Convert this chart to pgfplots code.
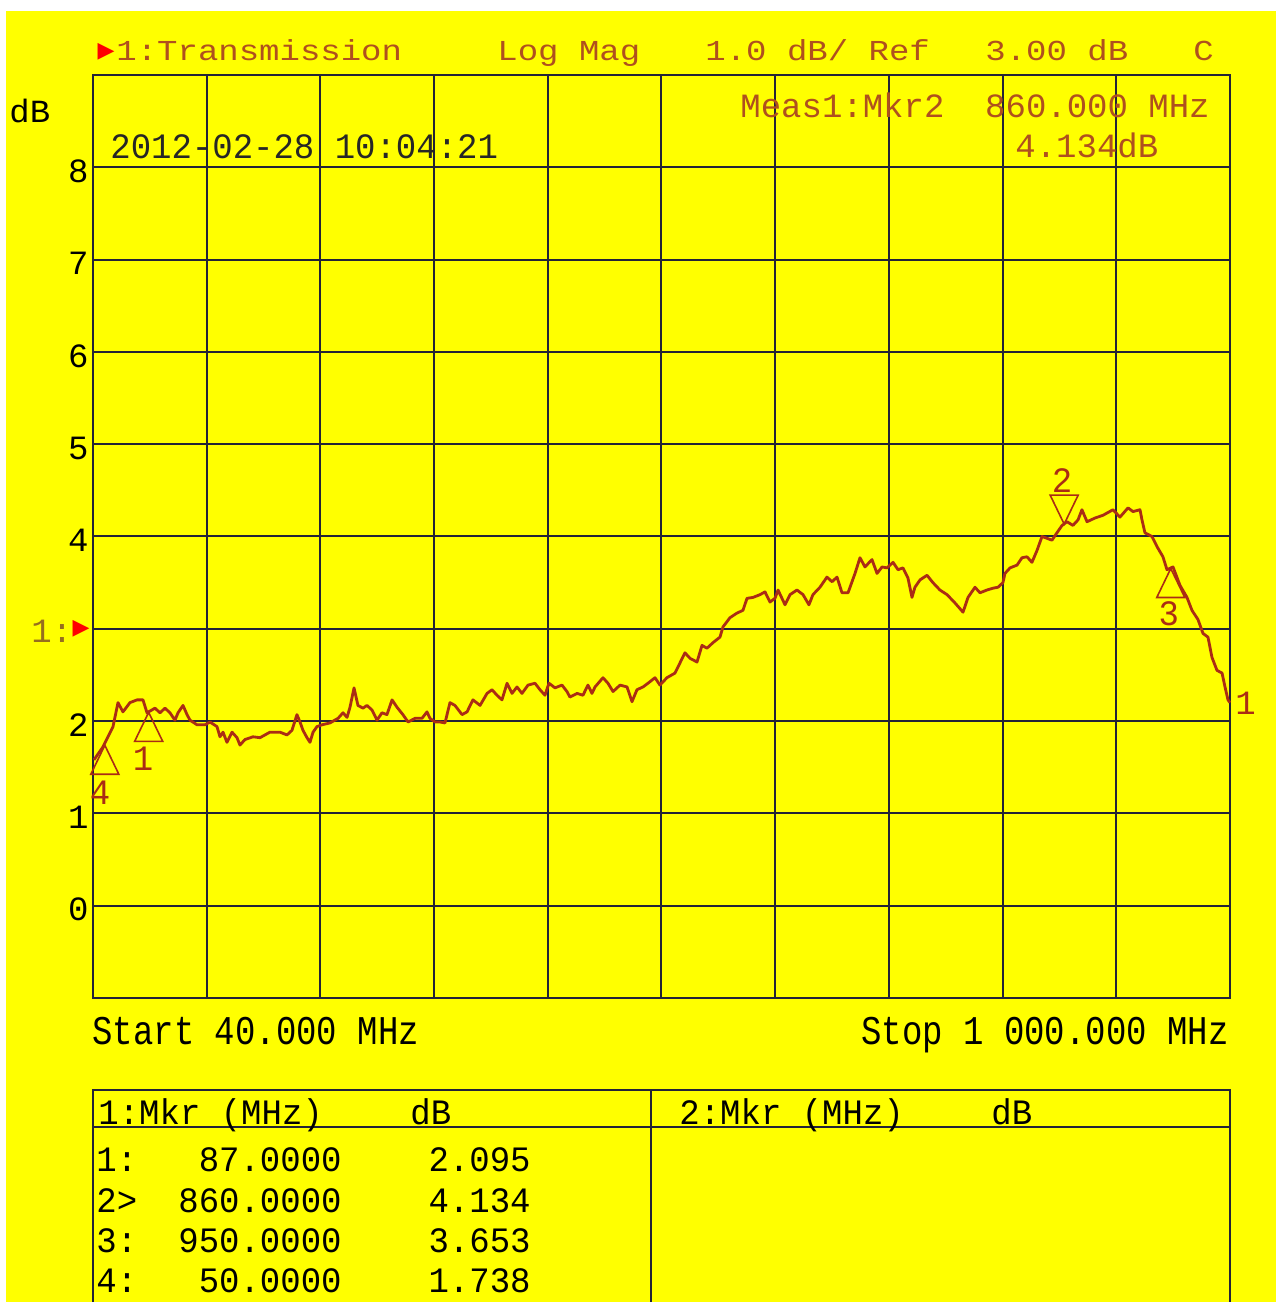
\documentclass[border=0pt]{standalone}
\usepackage{fontspec}
\usepackage{graphicx}
\usepackage{pgfplots}
\pgfplotsset{compat=1.18}
\newfontfamily\mono{Liberation Mono}
\newfontfamily\dejavu{DejaVu Sans}
\definecolor{yel}{RGB}{255,255,0}
\definecolor{gridc}{RGB}{35,35,55}
\definecolor{trc}{RGB}{170,45,20}
\definecolor{hdr}{RGB}{175,80,30}
\definecolor{olv}{RGB}{150,110,30}
\newcommand{\M}[2]{\scalebox{1}[#1]{\mono\fontsize{17}{17}\selectfont #2}}
\pgfdeclareplotmark{mkup}{%
  \pgfpathmoveto{\pgfqpoint{0pt}{0pt}}%
  \pgfpathlineto{\pgfqpoint{-7pt}{-14.5pt}}%
  \pgfpathlineto{\pgfqpoint{7pt}{-14.5pt}}%
  \pgfpathclose\pgfusepathqstroke}
\pgfdeclareplotmark{mkdown}{%
  \pgfpathmoveto{\pgfqpoint{0pt}{0pt}}%
  \pgfpathlineto{\pgfqpoint{-7pt}{14.5pt}}%
  \pgfpathlineto{\pgfqpoint{7pt}{14.5pt}}%
  \pgfpathclose\pgfusepathqstroke}
\pgfplotstableread{
f db
40.8 1.58
48.4 1.72
56.9 1.94
61.1 2.20
65.3 2.10
71.2 2.20
77.2 2.23
82.2 2.23
85.6 2.09
92.3 2.14
96.6 2.09
100.8 2.14
105.0 2.09
109.2 2.01
111.8 2.09
116.0 2.17
119.4 2.07
121.9 2.01
127.8 1.96
134.6 1.96
138.8 1.99
144.7 1.94
147.2 1.83
149.8 1.88
153.1 1.77
157.4 1.88
161.6 1.82
164.1 1.74
168.3 1.80
175.1 1.83
181.0 1.82
189.4 1.88
197.9 1.88
203.8 1.85
208.0 1.90
212.2 2.07
214.8 1.99
217.3 1.90
220.7 1.82
223.2 1.77
225.8 1.88
229.1 1.94
233.4 1.96
240.1 1.98
246.9 2.03
251.1 2.09
254.5 2.04
257.0 2.15
260.4 2.36
263.7 2.17
268.0 2.14
271.3 2.17
275.6 2.12
279.8 2.01
284.0 2.09
288.2 2.07
292.5 2.23
296.7 2.15
301.7 2.07
306.0 1.99
311.9 2.03
317.8 2.03
322.0 2.10
324.5 2.03
328.8 1.99
333.0 1.99
337.2 1.98
341.4 2.20
345.6 2.17
351.6 2.07
355.8 2.10
360.8 2.23
366.8 2.17
372.7 2.30
376.9 2.34
381.1 2.28
385.3 2.23
389.6 2.41
393.8 2.30
398.0 2.37
402.2 2.30
407.3 2.39
413.2 2.41
417.4 2.34
421.6 2.28
425.0 2.41
430.1 2.36
436.0 2.39
440.2 2.32
442.7 2.26
448.7 2.30
453.7 2.28
457.9 2.39
461.3 2.30
463.9 2.37
470.6 2.47
474.8 2.41
479.1 2.32
485.0 2.39
490.9 2.37
495.1 2.21
499.3 2.34
504.4 2.37
508.6 2.41
514.5 2.47
518.7 2.39
524.6 2.47
531.4 2.52
535.6 2.63
539.8 2.74
544.1 2.68
550.0 2.64
554.2 2.82
558.4 2.79
563.5 2.85
569.4 2.91
571.9 3.02
577.8 3.12
583.7 3.17
588.8 3.20
592.2 3.33
597.3 3.34
603.2 3.37
607.4 3.40
611.6 3.29
615.8 3.33
618.4 3.42
624.3 3.26
628.5 3.37
634.4 3.42
639.5 3.37
644.5 3.26
647.9 3.37
653.8 3.45
659.7 3.56
664.0 3.51
668.2 3.56
672.4 3.39
677.5 3.39
683.4 3.60
687.6 3.77
691.8 3.67
697.7 3.75
702.0 3.60
706.2 3.67
710.4 3.66
715.5 3.72
719.7 3.64
723.9 3.66
728.1 3.55
731.5 3.34
734.0 3.45
738.3 3.53
744.2 3.58
749.2 3.50
755.1 3.42
761.1 3.37
767.8 3.28
774.6 3.18
778.8 3.34
784.7 3.45
788.9 3.39
794.8 3.42
799.9 3.44
804.1 3.45
808.3 3.50
810.0 3.60
814.3 3.66
820.2 3.69
824.4 3.77
828.6 3.78
832.8 3.72
837.1 3.85
841.3 4.00
845.5 3.98
849.7 3.96
853.9 4.04
858.2 4.12
862.4 4.16
867.4 4.12
871.7 4.18
875.0 4.29
879.3 4.16
886.0 4.20
892.8 4.23
901.2 4.29
907.1 4.21
913.9 4.31
918.1 4.27
924.0 4.29
925.7 4.18
928.2 4.04
934.1 4.00
938.4 3.89
943.4 3.78
946.8 3.64
951.9 3.67
957.8 3.47
963.7 3.34
967.9 3.20
973.0 3.10
977.2 2.95
981.4 2.91
984.8 2.69
989.0 2.55
993.3 2.52
995.8 2.37
998.3 2.23
1000.0 2.20
}\trace
\begin{document}
\begin{tikzpicture}
\useasboundingbox (0,0) rectangle (638pt,651pt);
\fill[yel] (0,0) rectangle (638pt,651pt);
\fill[white] (0,645.5pt) rectangle (638pt,651pt);
\fill[white] (0,0) rectangle (3pt,651pt);
\begin{axis}[
  at={(46.5pt,152pt)}, anchor=south west,
  scale only axis, width=568.5pt, height=461.5pt,
  xmin=40, xmax=1000, ymin=-1, ymax=9,
  xtick={40,136,232,328,424,520,616,712,808,904,1000},
  xticklabels={},
  ytick={-1,0,1,2,3,4,5,6,7,8,9},
  yticklabels={{},0,1,2,{},4,5,6,7,8,{}},
  grid=major,
  major grid style={draw=gridc, line width=1pt},
  axis line style={draw=gridc, line width=1pt},
  major tick length=0pt, tick style={draw=none},
  yticklabel style={font=\mono\fontsize{17}{17}\selectfont, text=black, inner sep=0pt, anchor=east, xshift=-2pt, yshift=-2pt},
  axis background/.style={fill=yel},
  clip=false,
]
\addplot[draw=trc, line width=1.4pt, line join=round, no markers] table[x=f, y=db] {\trace};
\addplot[only marks, mark=mkup, mark options={draw=trc, line width=0.8pt}] coordinates {(50,1.738) (87,2.095) (950,3.653)};
\addplot[only marks, mark=mkdown, mark options={draw=trc, line width=0.8pt}] coordinates {(860,4.134)};
\node[text=trc, inner sep=0pt, xshift=-2.4pt, yshift=-23.5pt] at (axis cs:50,1.738) {\M{1.05}{4}};
\node[text=trc, inner sep=0pt, xshift=-2.8pt, yshift=-23pt] at (axis cs:87,2.095) {\M{1.05}{1}};
\node[text=trc, inner sep=0pt, xshift=-1pt, yshift=22pt] at (axis cs:860,4.134) {\M{1.05}{2}};
\node[text=trc, inner sep=0pt, xshift=-1pt, yshift=-22.7pt] at (axis cs:950,3.653) {\M{1.05}{3}};
\end{axis}
% header
\node[text=red, inner sep=0pt] at (53pt,625pt) {\dejavu\fontsize{11}{11}\selectfont ▶};
\node[text=hdr, inner sep=0pt, anchor=base west] at (58pt,620.5pt) {\M{0.85}{1:Transmission}};
\node[text=hdr, inner sep=0pt, anchor=base west] at (248.5pt,620.5pt) {\M{0.85}{Log~Mag}};
\node[text=hdr, inner sep=0pt, anchor=base west] at (352.5pt,620.5pt) {\M{0.85}{1.0~dB/~Ref}};
\node[text=hdr, inner sep=0pt, anchor=base west] at (492.5pt,620.5pt) {\M{0.85}{3.00~dB}};
\node[text=hdr, inner sep=0pt, anchor=base west] at (596.5pt,620.5pt) {\M{0.85}{C}};
\node[text=black, inner sep=0pt, anchor=base west] at (4.5pt,589.5pt) {\M{0.95}{dB}};
\node[text=black!85, inner sep=0pt, anchor=base west] at (55pt,571.5pt) {\M{1.05}{2012-02-28~10:04:21}};
\node[text=hdr, inner sep=0pt, anchor=base west] at (370pt,592pt) {\M{1.0}{Meas1:Mkr2~~860.000~MHz}};
\node[text=hdr, inner sep=0pt, anchor=base west] at (507.5pt,572pt) {\M{1.0}{4.134dB}};
\node[text=olv, inner sep=0pt, anchor=base west] at (15.5pt,329.5pt) {\M{1.0}{1:}};
\node[text=red, inner sep=0pt] at (40.5pt,336.5pt) {\dejavu\fontsize{11}{11}\selectfont ▶};
\node[text=trc, inner sep=0pt, anchor=base west] at (617.5pt,293.5pt) {\M{1.0}{1}};
% start / stop
\node[text=black, inner sep=0pt, anchor=base west] at (46pt,128.5pt) {\M{1.2}{Start~40.000~MHz}};
\node[text=black, inner sep=0pt, anchor=base east] at (614.5pt,128.5pt) {\M{1.2}{Stop~1~000.000~MHz}};
% table
\draw[gridc, line width=1pt] (46.5pt,-1pt) -- (46.5pt,106pt) -- (615pt,106pt) -- (615pt,-1pt);
\draw[gridc, line width=1pt] (46.5pt,87.5pt) -- (615pt,87.5pt);
\draw[gridc, line width=1pt] (325.5pt,106pt) -- (325.5pt,-1pt);
\node[text=black, inner sep=0pt, anchor=base west] at (49pt,88.5pt) {\M{1.05}{1:Mkr~(MHz)}};
\node[text=black, inner sep=0pt, anchor=base west] at (205pt,88.5pt) {\M{1.05}{dB}};
\node[text=black, inner sep=0pt, anchor=base west] at (339.5pt,88.5pt) {\M{1.05}{2:Mkr~(MHz)}};
\node[text=black, inner sep=0pt, anchor=base west] at (495.5pt,88.5pt) {\M{1.05}{dB}};
\node[text=black, inner sep=0pt, anchor=base west] at (48pt,65pt) {\M{1.05}{1:}};
\node[text=black, inner sep=0pt, anchor=base west] at (48pt,45pt) {\M{1.05}{2>}};
\node[text=black, inner sep=0pt, anchor=base west] at (48pt,25pt) {\M{1.05}{3:}};
\node[text=black, inner sep=0pt, anchor=base west] at (48pt,5pt) {\M{1.05}{4:}};
\node[text=black, inner sep=0pt, anchor=base east] at (171pt,65pt) {\M{1.05}{87.0000}};
\node[text=black, inner sep=0pt, anchor=base east] at (171pt,45pt) {\M{1.05}{860.0000}};
\node[text=black, inner sep=0pt, anchor=base east] at (171pt,25pt) {\M{1.05}{950.0000}};
\node[text=black, inner sep=0pt, anchor=base east] at (171pt,5pt) {\M{1.05}{50.0000}};
\node[text=black, inner sep=0pt, anchor=base east] at (265.5pt,65pt) {\M{1.05}{2.095}};
\node[text=black, inner sep=0pt, anchor=base east] at (265.5pt,45pt) {\M{1.05}{4.134}};
\node[text=black, inner sep=0pt, anchor=base east] at (265.5pt,25pt) {\M{1.05}{3.653}};
\node[text=black, inner sep=0pt, anchor=base east] at (265.5pt,5pt) {\M{1.05}{1.738}};
\end{tikzpicture}
\end{document}
